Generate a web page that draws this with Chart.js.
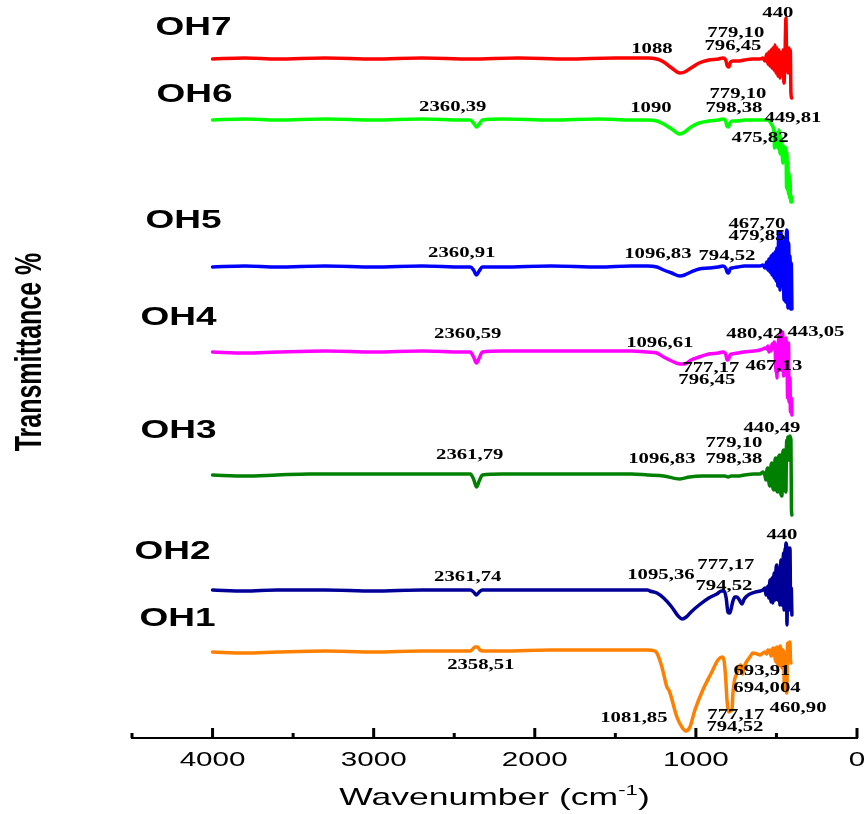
<!DOCTYPE html>
<html lang="en">
<head>
    <meta charset="UTF-8">
    <title>FTIR spectra OH1-OH7</title>
    <script src="https://cdn.jsdelivr.net/npm/chart.js"></script>
    <style>
        html, body {
            margin: 0;
            padding: 0;
            background: #fff;
            overflow: hidden;
        }
        .wrap {
            width: 864px;
            height: 814px;
            position: relative;
        }
    </style>
</head>
<body>
    <div class="wrap"><canvas id="ftir"></canvas></div>

    <script>
        // spectra as [wavenumber, transmittance (stacked, a.u.)]
        const oh1 = [[4000,86],[3800,85],[3600,86],[3300,87],[3000,86],[2700,87],[2450,87],[2400,87],[2385,89],[2370,91],[2355,91],[2340,88],[2320,87],[2200,87],[1900,88],[1600,88],[1400,88],[1300,88],[1255,87],[1242,85],[1211,71],[1180,51],[1165,47],[1118,21],[1087,11],[1062,7],[1037,11],[1006,28],[957,48],[901,66],[863,78],[838,81],[826,78],[815,60],[807,38],[795,26],[786,27],[776,28],[770,45],[760,58],[745,65],[735,70],[724,73],[714,70],[710,64],[705,68],[696,73],[683,77],[665,81],[646,85],[620,84],[602,83],[584,85],[571,86],[560,84],[553,88],[547,86],[540,88],[534,82],[528,83],[522,90],[515,89],[509,80],[503,76],[500,90],[497,91],[490,72],[484,73],[480,91],[476,92],[472,88],[466,70],[463,73],[460,88],[455,85],[451,48],[447,50],[444,80],[441,78],[438,45],[435,47],[432,90],[429,95],[425,80],[422,78],[419,96],[416,96],[413,78],[410,75]];
        const oh2 = [[4000,148],[3800,147],[3600,148],[3300,148],[3000,147],[2700,148],[2450,148],[2400,148],[2380,146],[2362,143],[2345,146],[2325,148],[2200,148],[1900,148],[1600,148],[1400,148],[1300,148],[1286,147],[1242,145],[1200,140],[1150,131],[1110,122],[1085,119],[1060,121],[1030,126],[980,133],[920,140],[870,144],[840,147],[825,147],[812,140],[801,126],[790,125],[783,128],[770,137],[758,141],[745,141],[730,138],[714,134],[700,139],[683,142],[665,144],[630,146],[600,147],[584,148],[571,150],[565,143],[553,152],[547,140],[540,158],[534,136],[528,160],[522,135],[515,165],[509,138],[503,168],[497,173],[491,138],[484,170],[478,133],[472,178],[466,133],[460,170],[456,185],[453,128],[447,188],[443,190],[441,195],[437,192],[435,113],[432,140],[429,190],[425,185],[422,128],[419,185],[416,190],[412,130],[408,150],[404,123]];
        const oh3 = [[4000,263],[3800,262],[3600,263],[3400,264],[3100,264],[2800,264],[2450,264],[2400,264],[2380,259],[2362,251],[2345,257],[2325,263],[2200,264],[1900,264],[1600,264],[1400,264],[1300,263],[1200,262],[1099,259],[1040,261],[960,262],[880,262],[820,262],[800,261],[780,262],[740,262],[700,263],[640,264],[602,264],[584,266],[571,262],[565,258],[559,268],[553,270],[547,256],[540,252],[534,272],[528,275],[522,250],[515,248],[509,278],[503,280],[497,247],[491,246],[485,282],[478,283],[472,244],[466,242],[460,286],[453,288],[447,250],[441,246],[438,290],[435,298],[431,290],[429,301],[425,280],[422,278],[419,298],[416,302],[412,300],[410,298],[407,230],[404,223]];
        const oh4 = [[4000,386],[3800,385],[3600,386],[3300,387],[3000,386],[2700,387],[2450,386],[2400,386],[2380,381],[2362,375],[2345,380],[2325,386],[2200,387],[1900,387],[1600,387],[1400,387],[1300,386],[1242,385],[1200,381],[1150,377],[1099,374],[1070,374],[1030,378],[980,381],[920,384],[860,385],[832,386],[815,384],[806,378],[797,379],[788,383],[775,384],[740,385],[700,386],[640,387],[602,388],[584,389],[571,390],[560,389],[553,392],[546,386],[540,390],[533,387],[528,394],[522,390],[515,396],[509,393],[503,366],[500,385],[497,360],[494,393],[491,390],[484,402],[481,395],[478,388],[475,368],[472,368],[466,406],[463,406],[460,400],[456,362],[453,363],[449,385],[445,398],[441,400],[438,390],[435,393],[431,340],[429,343],[425,395],[422,336],[419,340],[416,360],[413,326],[410,330],[407,340],[404,323]];
        const oh5 = [[4000,471],[3800,472],[3600,471],[3300,472],[3000,471],[2700,472],[2450,471],[2400,471],[2380,468],[2362,463],[2345,467],[2325,471],[2200,471],[1900,472],[1600,471],[1400,472],[1300,472],[1242,471],[1200,468],[1150,465],[1099,462],[1070,463],[1030,466],[980,469],[920,470],[860,471],[832,472],[815,470],[806,466],[797,465],[788,469],[775,470],[740,471],[700,472],[640,472],[602,472],[584,473],[571,470],[560,476],[553,468],[546,479],[540,466],[533,482],[528,463],[522,484],[515,460],[509,486],[503,457],[497,490],[491,452],[486,506],[482,506],[478,448],[474,506],[470,500],[466,452],[460,496],[453,438],[447,500],[443,436],[437,508],[433,506],[429,430],[424,495],[420,432],[416,482],[412,429],[408,475],[404,429]];
        const oh6 = [[4000,618],[3800,619],[3600,618],[3300,619],[3000,618],[2700,619],[2450,618],[2400,618],[2380,615],[2362,611],[2345,614],[2325,618],[2200,619],[1900,618],[1600,619],[1400,618],[1300,618],[1242,617],[1200,614],[1150,609],[1099,604],[1070,606],[1030,611],[980,615],[920,617],[860,618],[832,619],[815,617],[808,612],[798,611],[788,615],[775,617],[740,617],[700,618],[640,618],[584,618],[553,618],[540,616],[528,613],[522,611],[515,605],[512,590],[509,606],[503,598],[497,605],[491,590],[484,608],[478,584],[472,600],[466,588],[460,575],[456,592],[453,580],[447,586],[441,590],[437,550],[435,585],[431,548],[429,575],[425,544],[422,565],[418,540],[416,560],[412,536],[408,542],[404,536]];
        const oh7 = [[4000,679],[3800,680],[3600,679],[3300,680],[3000,679],[2700,680],[2400,679],[2100,680],[1800,679],[1500,680],[1300,680],[1242,679],[1200,676],[1150,670],[1099,665],[1070,666],[1030,670],[980,675],[920,678],[860,679],[832,680],[815,678],[805,672],[795,671],[785,676],[770,677],[740,677],[700,678],[650,679],[602,679],[584,680],[571,677],[560,684],[553,674],[546,686],[540,672],[533,688],[528,670],[522,690],[515,668],[509,693],[503,665],[497,690],[491,662],[484,688],[478,660],[472,685],[466,663],[460,688],[453,655],[447,682],[441,720],[438,690],[435,672],[432,690],[429,665],[422,690],[418,672],[414,688],[410,645],[406,640]];

        const sampleNames = ["OH1", "OH2", "OH3", "OH4", "OH5", "OH6", "OH7"];
        const sampleData = [oh1, oh2, oh3, oh4, oh5, oh6, oh7];
        const sampleColors = ["#ff8000", "#000099", "#008000", "#ff00ff", "#0000ff", "#00ff00", "#ff0000"];

        // where each sample name sits, in chart units [wavenumber, T]
        const nameSpots = [[4217,121],[4248,188],[4211,309],[4211,422],[4180,519],[4112,645],[4118,712]];

        // band assignments written next to the curves: [text, wavenumber, T]
        const peakLabels = [
            ["440", 491, 726], ["779,10", 752, 706], ["796,45", 770, 693], ["1088", 1273, 690],
            ["2360,39", 2509, 632], ["1090", 1279, 631], ["779,10", 739, 645], ["798,38", 764, 631], ["449,81", 398, 621], ["475,82", 602, 601],
            ["2360,91", 2453, 486], ["1096,83", 1236, 485], ["794,52", 807, 483], ["467,70", 621, 515], ["479,85", 621, 503],
            ["2360,59", 2416, 405], ["1096,61", 1224, 396], ["777,17", 907, 371], ["796,45", 932, 359], ["480,42", 634, 405], ["467,13", 516, 373], ["443,05", 255, 407],
            ["2361,79", 2404, 284], ["1096,83", 1211, 280], ["779,10", 764, 296], ["798,38", 764, 280], ["440,49", 528, 311],
            ["2361,74", 2416, 162], ["1095,36", 1217, 164], ["777,17", 814, 174], ["794,52", 826, 153], ["440", 466, 204],
            ["2358,51", 2335, 74], ["1081,85", 1385, 21], ["777,17", 752, 24], ["794,52", 758, 12], ["693,91", 590, 68], ["694,004", 559, 51], ["460,90", 366, 31]
        ];

        const SANS = '"Liberation Sans", Arial, sans-serif';
        const SERIF = '"Liberation Serif", "Times New Roman", serif';
        const STRETCH = 1.48; // text in this figure is drawn wide

        function wideText(ctx, text, x, y, font, align) {
            ctx.save();
            ctx.translate(x, y);
            ctx.scale(STRETCH, 1);
            ctx.font = font;
            ctx.textAlign = align || "center";
            ctx.textBaseline = "alphabetic";
            ctx.fillText(text, 0, 0);
            ctx.restore();
        }

        const decor = {
            id: "decor",
            afterDraw(chart) {
                const { ctx, chartArea, scales } = chart;
                const x = scales.x, y = scales.y;
                ctx.save();
                ctx.fillStyle = "#000";
                ctx.strokeStyle = "#000";

                // tick marks point up into the plot
                ctx.lineWidth = 3;
                x.ticks.forEach(t => {
                    const px = x.getPixelForValue(t.value);
                    const major = t.value % 1000 === 0;
                    ctx.beginPath();
                    ctx.moveTo(px, chartArea.bottom);
                    ctx.lineTo(px, chartArea.bottom - (major ? 10 : 5));
                    ctx.stroke();
                    if (major) {
                        wideText(ctx, String(t.value), px, chartArea.bottom + 28, "20px " + SANS);
                    }
                });

                // x title with superscript
                const cx = (chartArea.left + chartArea.right) / 2;
                const base = chartArea.bottom + 67;
                const mainFont = "24px " + SANS, supFont = "15px " + SANS;
                ctx.font = mainFont;
                const w1 = ctx.measureText("Wavenumber (cm").width;
                const w3 = ctx.measureText(")").width;
                ctx.font = supFont;
                const w2 = ctx.measureText("-1").width;
                ctx.save();
                ctx.translate(cx, base);
                ctx.scale(STRETCH, 1);
                ctx.textAlign = "left";
                ctx.textBaseline = "alphabetic";
                let sx = -(w1 + w2 + w3) / 2;
                ctx.font = mainFont;
                ctx.fillText("Wavenumber (cm", sx, 0);
                sx += w1;
                ctx.font = supFont;
                ctx.fillText("-1", sx, -10);
                sx += w2;
                ctx.font = mainFont;
                ctx.fillText(")", sx, 0);
                ctx.restore();

                // y title
                ctx.save();
                ctx.translate(41, 352);
                ctx.scale(STRETCH, 1);
                ctx.rotate(-Math.PI / 2);
                ctx.font = "bold 25px " + SANS;
                ctx.textAlign = "center";
                ctx.textBaseline = "alphabetic";
                ctx.fillText("Transmittance %", 0, 0);
                ctx.restore();

                // sample names
                sampleNames.forEach((name, i) => {
                    const [wn, t] = nameSpots[i];
                    wideText(ctx, name, x.getPixelForValue(wn), y.getPixelForValue(t) + 9, "bold 25px " + SANS);
                });

                // peak positions
                peakLabels.forEach(([text, wn, t]) => {
                    wideText(ctx, text, x.getPixelForValue(wn), y.getPixelForValue(t) + 5, "bold 14px " + SERIF);
                });

                ctx.restore();
            }
        };

        new Chart(document.getElementById("ftir"), {
            type: "line",
            data: {
                datasets: sampleNames.map((name, i) => ({
                    label: name,
                    data: sampleData[i],
                    borderColor: sampleColors[i],
                    backgroundColor: sampleColors[i],
                    borderWidth: 3.5,
                    pointRadius: 0,
                    fill: false,
                    cubicInterpolationMode: "monotone",
                    borderJoinStyle: "round",
                    borderCapStyle: "round"
                }))
            },
            options: {
                responsive: true,
                maintainAspectRatio: false,
                animation: false,
                layout: { padding: { left: 132, right: 7, top: 0, bottom: 0 } },
                plugins: {
                    legend: { display: false },
                    tooltip: { enabled: false }
                },
                scales: {
                    x: {
                        type: "linear",
                        reverse: true,
                        min: 0,
                        max: 4500,
                        ticks: { stepSize: 500, display: false },
                        grid: { display: false },
                        border: { display: true, color: "#000", width: 2 },
                        afterFit(scale) {
                            scale.height = 76;
                            scale.paddingLeft = 0;
                            scale.paddingRight = 0;
                        }
                    },
                    y: {
                        display: false,
                        min: 0,
                        max: 738
                    }
                }
            },
            plugins: [decor]
        });
    </script>
</body>
</html>
